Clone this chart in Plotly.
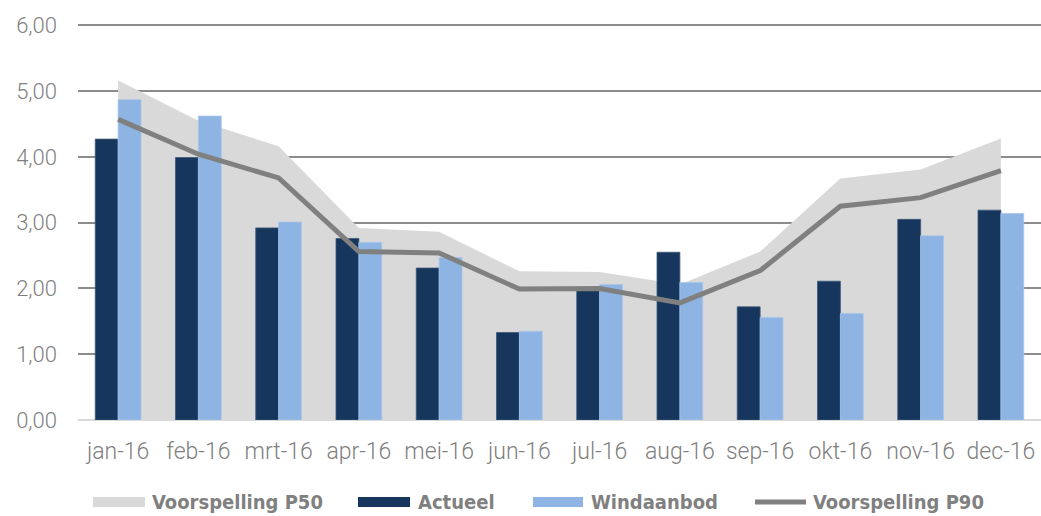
import plotly.graph_objects as go

months = ["jan-16", "feb-16", "mrt-16", "apr-16", "mei-16", "jun-16",
          "jul-16", "aug-16", "sep-16", "okt-16", "nov-16", "dec-16"]
p50 = [5.16, 4.55, 4.16, 2.92, 2.86, 2.26, 2.25, 2.06, 2.56, 3.67, 3.81, 4.28]
actueel = [4.27, 3.99, 2.92, 2.76, 2.31, 1.33, 1.97, 2.55, 1.72, 2.11, 3.05, 3.19]
windaanbod = [4.87, 4.62, 3.01, 2.70, 2.47, 1.35, 2.06, 2.09, 1.56, 1.62, 2.80, 3.14]
p90 = [4.57, 4.04, 3.68, 2.56, 2.54, 1.99, 2.00, 1.78, 2.27, 3.25, 3.38, 3.79]
series_names = ["Voorspelling P50", "Actueel", "Windaanbod", "Voorspelling P90"]
y_ticks = [0, 1, 2, 3, 4, 5, 6]

C_P50 = "#D9D9D9"
C_ACT = "#17365D"
C_WIND = "#8EB4E3"
C_P90 = "#808080"
TXT = "#808080"

W, H = 1041, 516
ML, MR, MT, MB = 78, 0, 24, 96
PW, PH = W - ML - MR, H - MT - MB
Y_RANGE = [0, 6.02]


def px_x(px):
    return (px - ML) / PW


def px_y(py):
    return (H - MB - py) / PH


fig = go.Figure()
fig.add_trace(go.Scatter(x=months, y=p50, name=series_names[0], mode="lines",
                         line=dict(width=0, color=C_P50), fill="tozeroy",
                         fillcolor=C_P50, xaxis="x", yaxis="y", showlegend=False))
fig.add_trace(go.Bar(x=months, y=actueel, name=series_names[1], marker_color=C_ACT,
                     marker_line=dict(color="#3E5878", width=0.8),
                     xaxis="x", yaxis="y2", showlegend=False))
fig.add_trace(go.Bar(x=months, y=windaanbod, name=series_names[2], marker_color=C_WIND,
                     marker_line=dict(color="#A9C6EA", width=0.8),
                     xaxis="x", yaxis="y2", showlegend=False))
fig.add_trace(go.Scatter(x=months, y=p90, name=series_names[3], mode="lines",
                         line=dict(width=5, color=C_P90), xaxis="x", yaxis="y2",
                         showlegend=False))

tick_font = dict(family="Roboto", size=22, color=TXT, weight=300)
xtick_font = dict(family="Roboto", size=23, color=TXT, weight=300)

fig.update_layout(
    width=W, height=H,
    margin=dict(l=ML, r=MR, t=MT, b=MB, autoexpand=False),
    paper_bgcolor="white", plot_bgcolor="white",
    separators=",.",
    barmode="group", bargap=0.43, bargroupgap=0,
    xaxis=dict(type="category", showgrid=False, showline=False, zeroline=False,
               tickfont=xtick_font, ticks="", ticklabelstandoff=15, automargin=False),
    yaxis=dict(range=Y_RANGE, tickvals=y_ticks, tickformat=".2f",
               showgrid=True, gridcolor="#8C8C8C", gridwidth=1.5,
               zeroline=True, zerolinecolor="#D9D9D9", zerolinewidth=2,
               showline=False, ticks="", tickfont=tick_font, ticklabelstandoff=20,
               automargin=False),
    yaxis2=dict(range=Y_RANGE, overlaying="y", showgrid=False, zeroline=False,
                showticklabels=False, showline=False),
    showlegend=False,
)

# Legend drawn as swatches + labels
legend_items = [
    (93, 145, 150, "rect", C_P50),
    (358, 410, 416, "rect", C_ACT),
    (533, 583, 589, "rect", C_WIND),
    (753, 808, 811, "line", C_P90),
]
ly = 502
for name, (sx0, sx1, tx, kind, col) in zip(series_names, legend_items):
    if kind == "rect":
        fig.add_shape(type="rect", xref="paper", yref="paper",
                      x0=px_x(sx0), x1=px_x(sx1), y0=px_y(ly + 5), y1=px_y(ly - 5),
                      fillcolor=col, line=dict(width=0))
    else:
        fig.add_shape(type="line", xref="paper", yref="paper",
                      x0=px_x(sx0 + 2), x1=px_x(sx1 - 2), y0=px_y(ly), y1=px_y(ly),
                      line=dict(color=col, width=5))
    fig.add_annotation(text=name, xref="paper", yref="paper", x=px_x(tx), y=px_y(ly),
                       xanchor="left", yanchor="middle", showarrow=False,
                       font=dict(family="DejaVu Sans Condensed, sans-serif",
                                 size=20, color=TXT, weight="bold"))

fig.write_html("out.html",
               config={"displayModeBar": False},
               post_script="document.body.style.margin='0';document.body.style.overflow='hidden';")
